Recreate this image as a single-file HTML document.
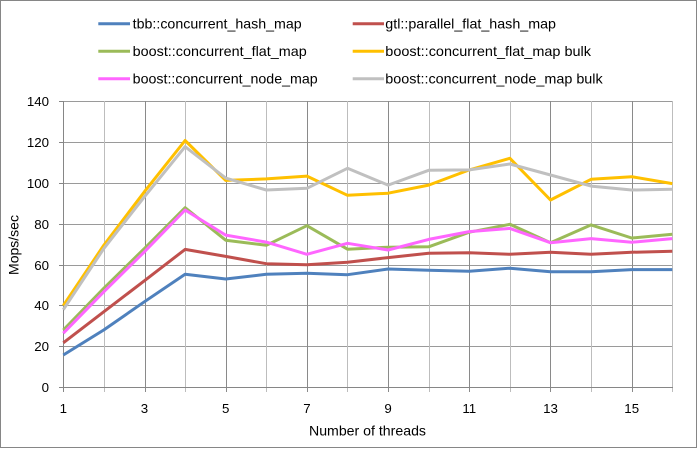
<!DOCTYPE html>
<html><head><meta charset="utf-8"><style>
html,body{margin:0;padding:0;background:#fff;}
svg{display:block;}
text{font-family:"Liberation Sans",Arial,sans-serif;fill:#000;}
</style></head><body>
<svg width="698" height="449" viewBox="0 0 698 449" xmlns="http://www.w3.org/2000/svg">
<rect x="0" y="0" width="698" height="449" fill="#fff"/>
<rect x="0.5" y="0.5" width="696" height="447" fill="none" stroke="#868686" stroke-width="1"/>

<!-- horizontal gridlines -->
<g stroke="#9a9a9a" stroke-width="1">
<line x1="63" y1="101.5" x2="673" y2="101.5"/>
<line x1="63" y1="142.5" x2="673" y2="142.5"/>
<line x1="63" y1="183.5" x2="673" y2="183.5"/>
<line x1="63" y1="224.5" x2="673" y2="224.5"/>
<line x1="63" y1="265.5" x2="673" y2="265.5"/>
<line x1="63" y1="305.5" x2="673" y2="305.5"/>
<line x1="63" y1="346.5" x2="673" y2="346.5"/>
</g>
<!-- vertical gridlines -->
<g stroke="#bdbdbd" stroke-width="1">
<line x1="104.5" y1="101" x2="104.5" y2="392"/>
<line x1="185.5" y1="101" x2="185.5" y2="392"/>
<line x1="266.5" y1="101" x2="266.5" y2="392"/>
<line x1="347.5" y1="101" x2="347.5" y2="392"/>
<line x1="429.5" y1="101" x2="429.5" y2="392"/>
<line x1="510.5" y1="101" x2="510.5" y2="392"/>
<line x1="591.5" y1="101" x2="591.5" y2="392"/>
<line x1="672.5" y1="101" x2="672.5" y2="392"/>
</g>
<g stroke="#8a8a8a" stroke-width="1">
<line x1="145.5" y1="101" x2="145.5" y2="392"/>
<line x1="226.5" y1="101" x2="226.5" y2="392"/>
<line x1="307.5" y1="101" x2="307.5" y2="392"/>
<line x1="388.5" y1="101" x2="388.5" y2="392"/>
<line x1="469.5" y1="101" x2="469.5" y2="392"/>
<line x1="550.5" y1="101" x2="550.5" y2="392"/>
<line x1="632.5" y1="101" x2="632.5" y2="392"/>
</g>
<!-- axes -->
<g stroke="#868686" stroke-width="1">
<line x1="63.5" y1="101" x2="63.5" y2="392"/>
<line x1="59" y1="387.5" x2="673" y2="387.5"/>
<line x1="59" y1="101.5" x2="63" y2="101.5"/>
<line x1="59" y1="142.5" x2="63" y2="142.5"/>
<line x1="59" y1="183.5" x2="63" y2="183.5"/>
<line x1="59" y1="224.5" x2="63" y2="224.5"/>
<line x1="59" y1="265.5" x2="63" y2="265.5"/>
<line x1="59" y1="305.5" x2="63" y2="305.5"/>
<line x1="59" y1="346.5" x2="63" y2="346.5"/>
</g>

<!-- y tick labels -->
<g font-size="13.3" text-anchor="end">
<text x="49" y="106">140</text>
<text x="49" y="147">120</text>
<text x="49" y="188">100</text>
<text x="49" y="229">80</text>
<text x="49" y="270">60</text>
<text x="49" y="310">40</text>
<text x="49" y="351">20</text>
<text x="49" y="392">0</text>
</g>
<!-- x tick labels -->
<g font-size="13.3" text-anchor="middle">
<text x="63.3" y="413">1</text>
<text x="144.5" y="413">3</text>
<text x="225.7" y="413">5</text>
<text x="306.9" y="413">7</text>
<text x="388.1" y="413">9</text>
<text x="469.3" y="413">11</text>
<text x="550.5" y="413">13</text>
<text x="631.7" y="413">15</text>
</g>
<text x="367.5" y="435.5" font-size="14" text-anchor="middle" textLength="117" lengthAdjust="spacingAndGlyphs">Number of threads</text>
<text x="0" y="0" font-size="14" text-anchor="middle" transform="translate(18.5,245) rotate(-90)">Mops/sec</text>

<!-- series -->
<g fill="none" stroke-width="3" stroke-linejoin="round" stroke-linecap="butt">
<polyline stroke="#4F81BD" points="63.3,355.0 103.9,329.9 144.5,301.7 185.1,274.3 225.7,279.0 266.3,274.3 306.9,273.3 347.5,274.7 388.1,269.0 428.7,270.2 469.3,271.3 509.9,268.2 550.5,271.7 591.1,271.7 631.7,269.6 672.3,269.6"/>
<polyline stroke="#C0504D" points="63.3,342.8 103.9,311.7 144.5,280.7 185.1,249.4 225.7,256.4 266.3,263.7 306.9,264.7 347.5,262.3 388.1,257.6 428.7,253.3 469.3,252.7 509.9,254.3 550.5,252.3 591.1,254.3 631.7,252.3 672.3,251.2"/>
<polyline stroke="#9BBB59" points="63.3,330.1 103.9,288.2 144.5,248.4 185.1,207.7 225.7,240.2 266.3,245.3 306.9,225.7 347.5,249.2 388.1,247.2 428.7,246.8 469.3,232.2 509.9,224.3 550.5,242.7 591.1,224.9 631.7,238.0 672.3,234.3"/>
<polyline stroke="#FFC000" points="63.3,305.6 103.9,245.1 144.5,191.6 185.1,140.5 225.7,180.4 266.3,178.9 306.9,176.1 347.5,195.3 388.1,193.2 428.7,185.1 469.3,169.9 509.9,158.3 550.5,200.0 591.1,179.3 631.7,176.7 672.3,183.6"/>
<polyline stroke="#FF66FF" points="63.3,333.2 103.9,291.7 144.5,251.7 185.1,210.0 225.7,235.1 266.3,242.1 306.9,254.3 347.5,243.3 388.1,250.0 428.7,239.4 469.3,231.6 509.9,228.4 550.5,242.7 591.1,238.6 631.7,242.3 672.3,238.6"/>
<polyline stroke="#C0C0C0" points="63.3,309.7 103.9,248.4 144.5,196.7 185.1,146.7 225.7,178.1 266.3,190.0 306.9,188.3 347.5,168.3 388.1,185.1 428.7,170.3 469.3,169.9 509.9,164.0 550.5,175.0 591.1,186.1 631.7,190.0 672.3,189.3"/>
</g>

<!-- legend -->
<g stroke-width="3">
<line x1="98.3" y1="23.7" x2="130" y2="23.7" stroke="#4F81BD"/>
<line x1="352.7" y1="23.7" x2="384" y2="23.7" stroke="#C0504D"/>
<line x1="98.3" y1="51.3" x2="130" y2="51.3" stroke="#9BBB59"/>
<line x1="352.7" y1="51.3" x2="384" y2="51.3" stroke="#FFC000"/>
<line x1="98.3" y1="78.7" x2="130" y2="78.7" stroke="#FF66FF"/>
<line x1="352.7" y1="78.7" x2="384" y2="78.7" stroke="#C0C0C0"/>
</g>
<g font-size="14">
<text x="132.7" y="28.3" textLength="169" lengthAdjust="spacingAndGlyphs">tbb::concurrent_hash_map</text>
<text x="385.3" y="28.3" textLength="170.7" lengthAdjust="spacingAndGlyphs">gtl::parallel_flat_hash_map</text>
<text x="132.7" y="55.9" textLength="174" lengthAdjust="spacingAndGlyphs">boost::concurrent_flat_map</text>
<text x="385.3" y="55.9" textLength="205.7" lengthAdjust="spacingAndGlyphs">boost::concurrent_flat_map bulk</text>
<text x="132.7" y="83.3" textLength="185" lengthAdjust="spacingAndGlyphs">boost::concurrent_node_map</text>
<text x="385.3" y="83.3" textLength="217.4" lengthAdjust="spacingAndGlyphs">boost::concurrent_node_map bulk</text>
</g>
</svg>
</body></html>
